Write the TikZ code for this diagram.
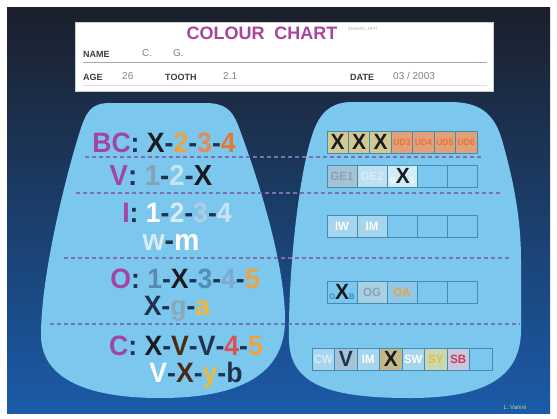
\documentclass[tikz,border=0pt]{standalone}
\usepackage{fontspec}
\setmainfont{Liberation Sans}
\newfontfamily\condfont[FakeStretch=0.95]{Liberation Sans}
\usetikzlibrary{positioning}
\definecolor{SlideTop}{HTML}{1B1F2A}
\definecolor{SlideMid}{HTML}{1D3C74}
\definecolor{SlideBot}{HTML}{1B5BA9}
\definecolor{Blob}{HTML}{7CC7EE}
\definecolor{DashC}{HTML}{7A72AE}
\definecolor{Purp}{HTML}{A245A6}
\definecolor{Ink}{HTML}{1A1A22}
\definecolor{Navy}{HTML}{22324E}
\definecolor{OrA}{HTML}{F2A23C}
\definecolor{OrB}{HTML}{E58C52}
\definecolor{OrC}{HTML}{E27A34}
\definecolor{GrB}{HTML}{8AA0B8}
\definecolor{LtB}{HTML}{C8E4F4}
\definecolor{LtC}{HTML}{D8ECF8}
\definecolor{LtD}{HTML}{B0CCE0}
\definecolor{StB}{HTML}{5A8AB0}
\definecolor{StC}{HTML}{5090B8}
\definecolor{StD}{HTML}{7FA8D0}
\definecolor{GrG}{HTML}{8AA8B8}
\definecolor{YeA}{HTML}{F0B83A}
\definecolor{ReA}{HTML}{E05050}
\definecolor{BrX}{HTML}{4A2A14}
\definecolor{HeadInk}{HTML}{3C3C44}
\definecolor{HeadVal}{HTML}{808088}
\definecolor{Magen}{HTML}{A8449C}
\definecolor{CellLine}{HTML}{3F8DB5}
\definecolor{XCell}{HTML}{D2C890}
\definecolor{UDCell}{HTML}{E2A078}
\definecolor{UDInk}{HTML}{E8743A}
\definecolor{GeA}{HTML}{A4C4D6}
\definecolor{GeB}{HTML}{BFE0F0}
\definecolor{GeC}{HTML}{D2ECF8}
\definecolor{InCell}{HTML}{A6D6EE}
\definecolor{OpB}{HTML}{3A86C8}
\definecolor{OpG}{HTML}{A8D0E4}
\definecolor{OpA}{HTML}{90C8E8}
\definecolor{ChY}{HTML}{C8D8B0}
\definecolor{ChR}{HTML}{D03A5A}
\definecolor{ChB}{HTML}{C8C8E0}
\definecolor{XBrown}{HTML}{C4B888}
\definecolor{Sign}{HTML}{B8D890}
\newcommand{\hy}{\textcolor{Navy}{-}}
\newcommand{\bigX}[1]{{\fontsize{22}{22}\selectfont #1}}
\newcommand{\crossed}[3]{\textcolor{#1}{\fontsize{8}{8}\selectfont #2}\bigX{\textcolor{Ink}{X}}\textcolor{#1}{\fontsize{8}{8}\selectfont #3}}

\begin{document}
\begin{tikzpicture}[x=1pt, y=-1pt,
  row/.style={anchor=base, inner sep=0pt,
              font=\condfont\bfseries\fontsize{28}{30}\selectfont},
  cell/.style={draw=CellLine, line width=1pt, minimum height=22pt,
               inner sep=0pt, font=\condfont\bfseries\fontsize{12}{12}\selectfont},
  hd/.style={anchor=west, inner sep=0pt, text=HeadInk,
             font=\bfseries\fontsize{9}{10}\selectfont},
  hv/.style={anchor=west, inner sep=0pt, text=HeadVal,
             font=\fontsize{10}{11}\selectfont},
  sepline/.style={DashC, line width=1.2pt, dash pattern=on 4pt off 3pt}
]
\useasboundingbox (0,0) rectangle (557,418);
% slide
\fill[white] (0,0) rectangle (557,418);
\shade[top color=SlideTop, middle color=SlideMid, bottom color=SlideBot]
  (7,7) rectangle (550,413);

% header card
\node[draw=gray!40, fill=white, minimum width=418pt, minimum height=69pt,
      inner sep=0pt] (card) at (284,56.5) {};
\node[inner sep=0pt, text=Magen, font=\bfseries\fontsize{18}{20}\selectfont]
  (title) at (262,33.5) {COLOUR\ \ CHART};
\node[inner sep=0pt, text=gray!60, font=\fontsize{4.5}{5}\selectfont,
      anchor=west] (tiny) at (348,29) {ENAMEL HFO};
\node[hd] (name) at (83,54) {NAME};
\node[hv] (nc) at (142,53) {C.};
\node[hv] (ng) at (173,53) {G.};
\draw[gray!70, line width=0.6pt] (83,62) -- (487,62);
\node[hd] (age) at (83,77) {AGE};
\node[hv] (agev) at (122,76) {26};
\node[hd] (tooth) at (165,77) {TOOTH};
\node[hv] (toothv) at (223,76) {2.1};
\node[hd] (date) at (350,77) {DATE};
\node[hv] (datev) at (393,76) {03 / 2003};
\draw[gray!25, line width=0.6pt] (83,85) -- (487,85);

% the two tooth maps
\fill[Blob] (110,103) -- (205,103)
  .. controls (225,103) and (232,110) .. (238,125)
  .. controls (255,170) and (285,260) .. (285,320)
  .. controls (285,368) and (250,398) .. (160,398)
  .. controls (80,398) and (41,375) .. (41,335)
  .. controls (41,270) and (70,160) .. (82,125)
  .. controls (88,108) and (95,103) .. (110,103) -- cycle;
\fill[Blob] (352,102) -- (450,102)
  .. controls (478,102) and (494,112) .. (502,140)
  .. controls (512,175) and (521,215) .. (521,260)
  -- (521,330)
  .. controls (521,380) and (480,398) .. (410,398)
  .. controls (330,398) and (290,385) .. (289,340)
  .. controls (288,270) and (300,160) .. (316,125)
  .. controls (324,108) and (336,102) .. (352,102) -- cycle;

% layer separators
\draw[sepline] (85,157) -- (482,157);
\draw[sepline] (76,193) -- (500,193);
\draw[sepline] (64,258) -- (511,258);
\draw[sepline] (50,324) -- (520,324);

% left map: layers
\node[row] (bcrow) at (164,152) {\textcolor{Purp}{BC}\textcolor{Navy}{:}
  \textcolor{Ink}{X}\hy\textcolor{OrA}{2}\hy\textcolor{OrB}{3}\hy\textcolor{OrC}{4}};
\node[row, font=\condfont\bfseries\fontsize{29}{31}\selectfont] (vrow) at (161,185)
  {\textcolor{Purp}{V}\textcolor{Navy}{:} \textcolor{GrB}{1}\hy\textcolor{LtB}{2}\hy\textcolor{Ink}{X}};
\node[row] (irow) at (177,222) {\textcolor{Purp}{I}\textcolor{Navy}{:}
  \textcolor{white}{1}\hy\textcolor{LtC}{2}\hy\textcolor{LtD}{3}\hy\textcolor{LtB}{4}};
\node[row, font=\condfont\bfseries\fontsize{30}{32}\selectfont] (irow2) at (171,250)
  {\textcolor{LtC}{w}\hy\textcolor{white}{m}};
\node[row] (orow) at (185,288) {\textcolor{Purp}{O}\textcolor{Navy}{:}
  \textcolor{StB}{1}\hy\textcolor{Ink}{X}\hy\textcolor{StC}{3}\hy\textcolor{StD}{4}\hy\textcolor{OrA}{5}};
\node[row] (orow2) at (177,315)
  {\textcolor{Navy}{X}\hy\textcolor{GrG}{g}\hy\textcolor{YeA}{a}};
\node[row] (crow) at (186,355) {\textcolor{Purp}{C}\textcolor{Navy}{:}
  \textcolor{Ink}{X}\hy\textcolor{BrX}{V}\hy\textcolor{Navy}{V}\hy\textcolor{ReA}{4}\hy\textcolor{OrA}{5}};
\node[row] (crow2) at (196,382)
  {\textcolor{white}{V}\hy\textcolor{BrX}{X}\hy\textcolor{YeA}{y}\hy\textcolor{Navy}{b}};

% right map: shade cells
\foreach \i/\f/\t/\l in {1/XCell/Ink/\bigX{X}, 2/XCell/Ink/\bigX{X}, 3/XCell/Ink/\bigX{X},
    4/UDCell/UDInk/{\fontsize{9}{9}\selectfont UD3}, 5/UDCell/UDInk/{\fontsize{9}{9}\selectfont UD4},
    6/UDCell/UDInk/{\fontsize{9}{9}\selectfont UD5}, 7/UDCell/UDInk/{\fontsize{9}{9}\selectfont UD6}}
  \node[cell, minimum width=21.43pt, fill=\f, text=\t] (bc\i) at ({327+21.43*(\i-0.5)},142) {\l};
\foreach \i/\f/\t/\l in {1/GeA/GrB/GE1, 2/GeB/LtC/GE2, 3/GeC/white/\crossed{white}{G}{3},
    4/Blob/Blob/{}, 5/Blob/Blob/{}}
  \node[cell, minimum width=30pt, fill=\f, text=\t] (ve\i) at ({327+30*(\i-0.5)},176) {\l};
\foreach \i/\f/\t/\l in {1/InCell/white/IW, 2/InCell/white/IM, 3/Blob/Blob/{}, 4/Blob/Blob/{}, 5/Blob/Blob/{}}
  \node[cell, minimum width=30pt, fill=\f, text=\t] (in\i) at ({327+30*(\i-0.5)},226) {\l};
\foreach \i/\f/\t/\l in {1/Blob/OpB/\crossed{OpB}{O}{B}, 2/OpG/GrB/OG, 3/OpA/OrA/OA,
    4/Blob/Blob/{}, 5/Blob/Blob/{}}
  \node[cell, minimum width=30pt, fill=\f, text=\t] (op\i) at ({327+30*(\i-0.5)},292) {\l};
\foreach \i/\f/\t/\l in {1/InCell/LtC/CW, 2/GeA/Navy/\bigX{V}, 3/InCell/white/IM, 4/XBrown/Ink/\bigX{X},
    5/InCell/white/SW, 6/ChY/YeA/SY, 7/ChB/ChR/SB, 8/Blob/Blob/{}}
  \node[cell, minimum width=22.5pt, fill=\f, text=\t] (ch\i) at ({312+22.5*(\i-0.5)},359) {\l};

% signature
\node[inner sep=0pt, text=Sign, font=\fontsize{6}{7}\selectfont] (sign) at (515,407) {L. Vanini};
\end{tikzpicture}
\end{document}
